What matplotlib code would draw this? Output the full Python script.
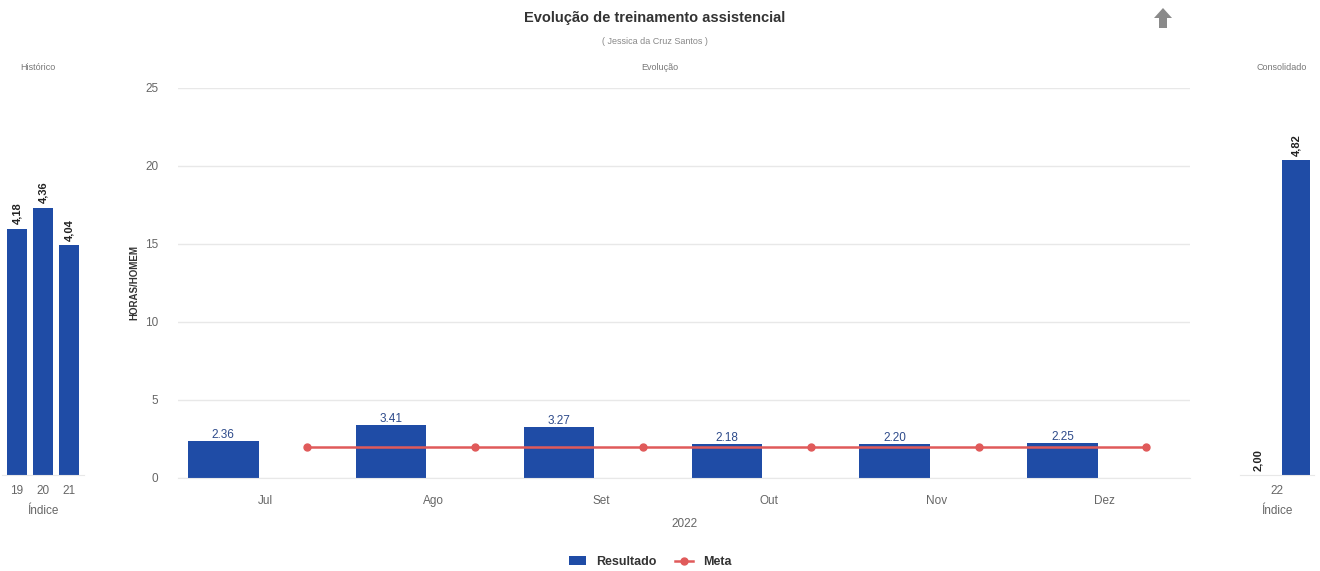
import matplotlib
matplotlib.use("Agg")
import matplotlib.pyplot as plt
from matplotlib.patches import Polygon
from matplotlib.lines import Line2D
from matplotlib.patches import Patch
import numpy as np

plt.rcParams['font.family'] = ['Liberation Sans', 'DejaVu Sans']

# ---- data ----
months = ["Jul", "Ago", "Set", "Out", "Nov", "Dez"]
resultado = [2.36, 3.41, 3.27, 2.18, 2.20, 2.25]
meta = [2.0, 2.0, 2.0, 2.0, 2.0, 2.0]
hist_labels = ["19", "20", "21"]
hist_values = [4.18, 4.36, 4.04]
cons_labels = ["22"]
cons_meta = [2.00]
cons_values = [4.82]
main_yticks = [0, 5, 10, 15, 20, 25]

BLUE = '#1f4ca6'
RED = '#e05a5a'
GRAY = '#666666'
GRID = '#e8e8e8'

W, H = 1320, 571
fig = plt.figure(figsize=(W / 100, H / 100), dpi=100)


def rect(x0, y0, x1, y1):
    return [x0 / W, 1 - y1 / H, (x1 - x0) / W, (y1 - y0) / H]


# ---- main axes ----
ax = fig.add_axes(rect(178, 88, 1190, 478))
x = np.arange(len(months))
ax.bar(x - 0.25, resultado, width=0.42, color=BLUE, zorder=2, label='Resultado')
ax.plot(x + 0.25, meta, color=RED, marker='o', markersize=5, linewidth=1.8,
        zorder=3, label='Meta')
for xi, v in zip(x, resultado):
    ax.text(xi - 0.25, v, f"{v:.2f}", ha='center', va='bottom', fontsize=8.5,
            color='#2d4a8a', zorder=4)
ax.set_xlim(-0.52, 5.51)
ax.set_ylim(0, 25)
ax.set_yticks(main_yticks)
ax.set_xticks(x)
ax.set_xticklabels(months)
ax.tick_params(axis='both', length=0, labelsize=8.5, colors=GRAY)
ax.tick_params(axis='x', pad=12)
ax.tick_params(axis='y', pad=14)
ax.grid(axis='y', color=GRID, linewidth=1, zorder=0)
for s in ['top', 'right', 'left']:
    ax.spines[s].set_visible(False)
ax.spines['bottom'].set_color(GRID)
ax.set_xlabel("2022", fontsize=8.5, color=GRAY, labelpad=8)
ax.set_ylabel("HORAS/HOMEM", fontsize=7, fontweight='bold', color='#333333',
              labelpad=4)

# ---- left (Histórico) ----
axl = fig.add_axes(rect(2, 88, 84, 475))
xl = np.arange(len(hist_values))
axl.bar(xl, hist_values, width=0.8, color=BLUE, zorder=2)
for xi, v in zip(xl, hist_values):
    axl.text(xi, v + 0.04, f"{v:.2f}".replace('.', ','), rotation=90,
             ha='center', va='bottom', fontsize=8, fontweight='bold', color='#222222')
axl.set_xlim(-0.577, 2.577)
axl.set_ylim(2.07, 5.39)
axl.set_xticks(xl)
axl.set_xticklabels(hist_labels)
axl.set_yticks([])
axl.tick_params(axis='x', length=0, labelsize=8.5, colors=GRAY, pad=7)
for s in ['top', 'right', 'left']:
    axl.spines[s].set_visible(False)
axl.spines['bottom'].set_color(GRID)
axl.set_xlabel("Índice", fontsize=8.5, color=GRAY, labelpad=6)

# ---- right (Consolidado) ----
axr = fig.add_axes(rect(1240, 88, 1314, 475))
xr = np.arange(len(cons_values))
axr.bar(xr + 0.257, cons_values, width=0.38, color=BLUE, zorder=2)
axr.bar(xr - 0.257, [m - 2.0 for m in cons_meta], bottom=2.0, width=0.38,
        color=RED, zorder=2)
for xi, v in zip(xr, cons_values):
    axr.text(xi + 0.257, v + 0.04, f"{v:.2f}".replace('.', ','), rotation=90,
             ha='center', va='bottom', fontsize=8, fontweight='bold', color='#222222')
for xi, v in zip(xr, cons_meta):
    axr.text(xi - 0.257, v + 0.04, f"{v:.2f}".replace('.', ','), rotation=90,
             ha='center', va='bottom', fontsize=8, fontweight='bold', color='#222222')
axr.set_xlim(-0.5, 0.5)
axr.set_ylim(2.0, 5.465)
axr.set_xticks(xr)
axr.set_xticklabels(cons_labels)
axr.set_yticks([])
axr.tick_params(axis='x', length=0, labelsize=8.5, colors=GRAY, pad=7)
for s in ['top', 'right', 'left']:
    axr.spines[s].set_visible(False)
axr.spines['bottom'].set_color(GRID)
axr.set_xlabel("Índice", fontsize=8.5, color=GRAY, labelpad=6)

# ---- titles ----
fig.text(655 / W, 1 - 18 / H, "Evolução de treinamento assistencial", ha='center',
         va='center', fontsize=10.5, fontweight='bold', color='#333333')
fig.text(655 / W, 1 - 41 / H, "( Jessica da Cruz Santos )", ha='center',
         va='center', fontsize=6.5, color='#888888')
fig.text(660 / W, 1 - 68 / H, "Evolução", ha='center', va='center',
         fontsize=6.5, color='#777777')
fig.text(38 / W, 1 - 68 / H, "Histórico", ha='center', va='center',
         fontsize=6.5, color='#777777')
fig.text(1282 / W, 1 - 68 / H, "Consolidado", ha='center', va='center',
         fontsize=6.5, color='#777777')

# ---- up arrow icon ----
pts = [(1163, 8), (1172, 18), (1167, 18), (1167, 28), (1159, 28), (1159, 18), (1154, 18)]
fig.patches.append(Polygon([(px / W, 1 - py / H) for px, py in pts], closed=True,
                           transform=fig.transFigure, facecolor='#8a8a8a',
                           edgecolor='none'))

# ---- legend ----
handles = [Patch(facecolor=BLUE, edgecolor='none', label='Resultado'),
           Line2D([0], [0], color=RED, marker='o', markersize=5, linewidth=1.8,
                  label='Meta')]
fig.legend(handles=handles, loc='center', bbox_to_anchor=(650 / W, 1 - 562 / H),
           ncol=2, frameon=False, prop={'size': 9, 'weight': 'bold'},
           handlelength=1.4, columnspacing=1.5, labelcolor='#333333')

fig.savefig("out.png", dpi=100, facecolor='white')
